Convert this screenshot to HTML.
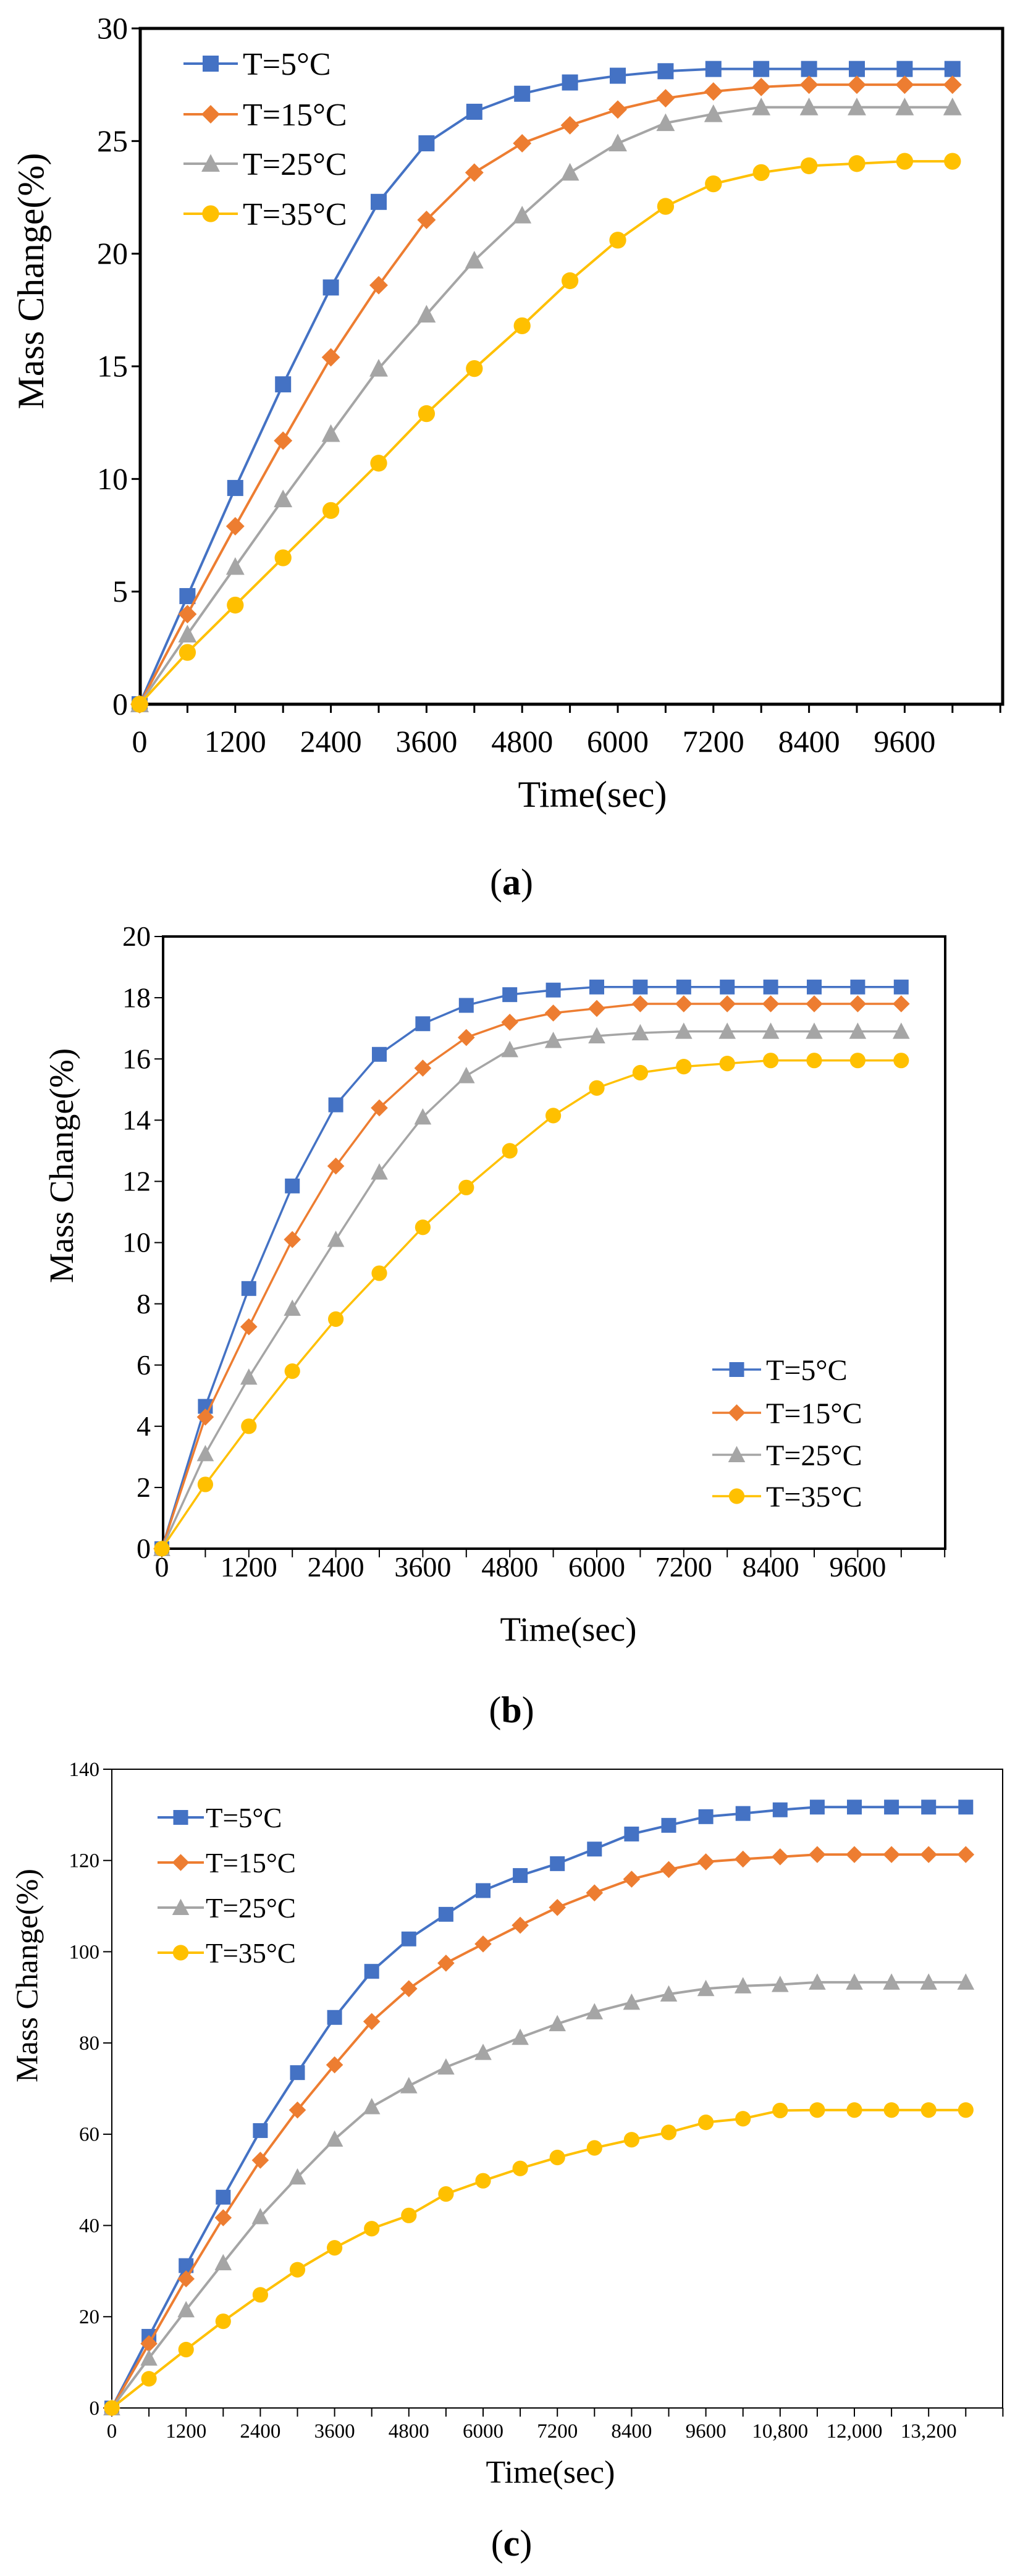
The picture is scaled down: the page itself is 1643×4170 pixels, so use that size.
<!DOCTYPE html>
<html><head><meta charset="utf-8"><style>
html,body{margin:0;padding:0;background:#fff;}
svg{display:block;}
text{font-family:"Liberation Serif",serif;fill:#000;}
</style></head><body>
<svg id="s" xmlns="http://www.w3.org/2000/svg" width="1643" height="4170" viewBox="0 0 1643 4170"></svg>
<script>
const S=document.getElementById('s');let h='';
const C=['#4472C4','#ED7D31','#A5A5A5','#FFC000'];
const L=['T=5°C','T=15°C','T=25°C','T=35°C'];
function mk(t,x,y,c,r){
 if(t==0)return `<rect x="${x-r}" y="${y-r}" width="${2*r}" height="${2*r}" fill="${c}"/>`;
 if(t==1)return `<polygon points="${x},${y-r*1.15} ${x+r*1.15},${y} ${x},${y+r*1.15} ${x-r*1.15},${y}" fill="${c}"/>`;
 if(t==2)return `<polygon points="${x},${y-r*1.2} ${x+r*1.15},${y+r} ${x-r*1.15},${y+r}" fill="${c}"/>`;
 return `<circle cx="${x}" cy="${y}" r="${r*1.05}" fill="${c}"/>`;
}
function chart(o){
 const {L0,R,T,B,ymax,ystep,x0,dx,data,bw,fs,lw,r,xl,leg,yt,xt,label,xo}=o;
 const ky=(B-T)/ymax;
 h+=`<rect x="${L0}" y="${T}" width="${R-L0}" height="${B-T}" fill="none" stroke="#000" stroke-width="${bw}"/>`;
 for(let v=0;v<=ymax+1e-9;v+=ystep){const y=B-v*ky;
  h+=`<line x1="${L0-14}" y1="${y}" x2="${L0}" y2="${y}" stroke="#000" stroke-width="${Math.max(2,bw-2)}"/>`;
  h+=`<text x="${L0-20}" y="${y+fs*0.33}" font-size="${fs}" text-anchor="end">${v}</text>`;}
 for(let i=0;;i++){const x=x0+i*dx;if(x>R+1)break;
  h+=`<line x1="${x}" y1="${B}" x2="${x}" y2="${B+14}" stroke="#000" stroke-width="${Math.max(2,bw-2)}"/>`;}
 xl.forEach((s,i)=>{const x=x0+i*2*dx;h+=`<text x="${x}" y="${B+xo}" font-size="${fs}" text-anchor="middle">${s}</text>`;});
 data.forEach((d,k)=>{const p=d.map((v,i)=>[x0+i*dx,B-v*ky]);
  h+=`<polyline points="${p.map(q=>q.join(',')).join(' ')}" fill="none" stroke="${C[k]}" stroke-width="${lw}"/>`;
  p.forEach(q=>h+=mk(k,q[0],q[1],C[k],r));});
 leg.rows.forEach((y,k)=>{h+=`<line x1="${leg.x1}" y1="${y}" x2="${leg.x2}" y2="${y}" stroke="${C[k]}" stroke-width="${lw}"/>`;
  h+=mk(k,(leg.x1+leg.x2)/2,y,C[k],r);
  h+=`<text x="${leg.tx}" y="${y+leg.fs*0.35}" font-size="${leg.fs}">${L[k]}</text>`;});
 h+=`<text x="${xt[0]}" y="${xt[1]}" font-size="${xt[2]}" text-anchor="middle">Time(sec)</text>`;
 h+=`<text transform="translate(${yt[0]},${yt[1]}) rotate(-90)" font-size="${yt[2]}" text-anchor="middle">Mass Change(%)</text>`;
 h+=`<text x="828" y="${label}" font-size="60" text-anchor="middle">(<tspan font-weight="bold">${o.lt}</tspan>)</text>`;
}
const fill=(a,n)=>{while(a.length<n)a.push(a[a.length-1]);return a;};
chart({L0:227,R:1623,T:46,B:1140,ymax:30,ystep:5,x0:226,dx:77.4,bw:5,fs:50,xo:77,lw:4,r:13,
 xl:['0','1200','2400','3600','4800','6000','7200','8400','9600'],
 data:[fill([0,4.8,9.6,14.2,18.5,22.3,24.9,26.3,27.1,27.6,27.9,28.1,28.2],18),
 fill([0,4.0,7.9,11.7,15.4,18.6,21.5,23.6,24.9,25.7,26.4,26.9,27.2,27.4,27.5],18),
 fill([0,3.1,6.1,9.1,12.0,14.9,17.3,19.7,21.7,23.6,24.9,25.8,26.2,26.5],18),
 fill([0,2.3,4.4,6.5,8.6,10.7,12.9,14.9,16.8,18.8,20.6,22.1,23.1,23.6,23.9,24.0,24.1],18)],
 leg:{x1:297,x2:385,tx:393,fs:52,rows:[103,185,265,346]},
 xt:[959,1306,60],yt:[70,455,60],label:1448,lt:'a'});
chart({L0:264,R:1530,T:1516,B:2507,ymax:20,ystep:2,x0:262,dx:70.4,bw:4,fs:46,xo:45,lw:3.5,r:12,
 xl:['0','1200','2400','3600','4800','6000','7200','8400','9600'],
 data:[fill([0,4.65,8.5,11.85,14.5,16.15,17.15,17.75,18.1,18.25,18.35],18),
 fill([0,4.3,7.25,10.1,12.5,14.4,15.7,16.7,17.2,17.5,17.65,17.8],18),
 fill([0,3.1,5.6,7.85,10.1,12.3,14.1,15.45,16.3,16.6,16.75,16.85,16.9],18),
 fill([0,2.1,4.0,5.8,7.5,9.0,10.5,11.8,13.0,14.15,15.05,15.55,15.75,15.85,15.95],18)],
 leg:{x1:1153,x2:1232,tx:1240,fs:48,rows:[2217,2287,2355,2422]},
 xt:[920,2656,55],yt:[118,1887,55],label:2788,lt:'b'});
chart({L0:181,R:1623,T:2864,B:3898,ymax:140,ystep:20,x0:181,dx:60.1,bw:2,fs:33,xo:48,lw:4,r:12,
 xl:['0','1200','2400','3600','4800','6000','7200','8400','9600','10,800','12,000','13,200'],
 data:[fill([0,15.7,31.2,46.2,60.8,73.5,85.6,95.7,102.8,108.2,113.4,116.7,119.3,122.5,125.8,127.7,129.6,130.3,131.1,131.7],24),
 fill([0,14.1,28.3,41.7,54.3,65.3,75.2,84.7,91.9,97.5,101.7,105.8,109.7,112.9,115.9,118.0,119.7,120.3,120.8,121.3],24),
 fill([0,10.9,21.5,31.8,41.9,50.6,58.9,66.0,70.6,74.7,77.9,81.2,84.2,86.8,88.9,90.7,91.9,92.5,92.8,93.3],24),
 fill([0,6.4,12.8,19.0,24.8,30.3,35.1,39.3,42.2,46.9,49.8,52.5,54.9,57.0,58.8,60.4,62.6,63.4,65.2,65.3],24)],
 leg:{x1:255,x2:330,tx:333,fs:45,rows:[2942,3015,3088,3161]},
 xt:[891,4019,52],yt:[60,3198,50],label:4137,lt:'c'});
S.innerHTML=h;
</script>
</body></html>
